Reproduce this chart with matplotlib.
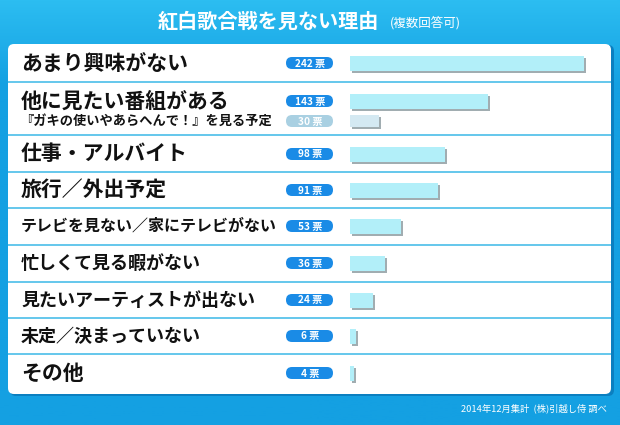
import numpy as np
import matplotlib.pyplot as plt
from matplotlib.patches import FancyBboxPatch
from matplotlib.colors import LinearSegmentedColormap
import matplotlib.patheffects as pe

plt.rcParams['font.family'] = ['Noto Sans CJK JP', 'DejaVu Sans']

# データ
labels = ['あまり興味がない', '他に見たい番組がある', '『ガキの使いやあらへんで！』を見る予定',
          '仕事・アルバイト', '旅行／外出予定', 'テレビを見ない／家にテレビがない',
          '忙しくて見る暇がない', '見たいアーティストが出ない', '未定／決まっていない', 'その他']
votes = [242, 143, 30, 98, 91, 53, 36, 24, 6, 4]
sub_row = [False, False, True, False, False, False, False, False, False, False]

# レイアウト (ピクセル)
row_y = [63, 101, 121, 154, 190, 226, 263, 300, 336, 373]
label_size = [15, 15, 9.5, 15, 15, 11.5, 13, 13, 13, 15]
separators = [82, 135, 172, 208, 245, 282, 318, 354]

W, H = 620, 425
fig = plt.figure(figsize=(W / 100, H / 100), dpi=100)

bg = fig.add_axes([0, 0, 1, 1])
bg.set_xlim(0, W)
bg.set_ylim(H, 0)
bg.axis('off')

# 背景のグラデーション
grad = np.linspace(0, 1, 200).reshape(-1, 1)
grad = np.clip(grad * 5, 0, 1)
cmap = LinearSegmentedColormap.from_list('bgblue', ['#2cbdf1', '#14a0e2'])
bg.imshow(grad, cmap=cmap, extent=[0, W, H, 0], aspect='auto', zorder=0)

# 白いパネル
shadow = FancyBboxPatch((10, 45), 604, 351, boxstyle='round,pad=0,rounding_size=6',
                        fc='#0b7fc0', ec='none', zorder=1)
bg.add_patch(shadow)
panel = FancyBboxPatch((8, 44), 603, 350, boxstyle='round,pad=0,rounding_size=6',
                       fc='white', ec='none', zorder=2)
bg.add_patch(panel)
bg.hlines(separators, 8, 611, color='#58c3ea', lw=1.3, zorder=3)

# タイトル
bg.text(268, 21, '紅白歌合戦を見ない理由', color='white', fontsize=14.5,
        fontweight='bold', ha='center', va='center', zorder=3)
bg.text(425, 23, '(複数回答可)', color='white', fontsize=9,
        ha='center', va='center', zorder=3)
bg.text(607, 408, '2014年12月集計  (株)引越し侍 調べ', color='white', fontsize=6.7,
        ha='right', va='center', zorder=3)

# 項目名と票数ラベル
for lab, v, y, fs, sub in zip(labels, votes, row_y, label_size, sub_row):
    bg.text(20 if sub else 21, y, lab, fontsize=fs, fontweight='bold', color='#111111',
            ha='left', va='center', zorder=4)
    pill_c = '#a9d0e2' if sub else '#1a8be6'
    pill = FancyBboxPatch((286, y - 6), 47, 12, boxstyle='round,pad=0,rounding_size=6',
                          fc=pill_c, ec='none', zorder=4)
    bg.add_patch(pill)
    bg.text(310, y + 0.5, f'{v} 票', color='white', fontsize=7.3, fontweight='bold',
            ha='center', va='center', zorder=5)

# 棒グラフ
px_per_vote = 0.967
bx = fig.add_axes([350 / W, 0, 260 / W, 1])
bx.set_xlim(0, 260 / px_per_vote)
bx.set_ylim(H, 0)
bx.axis('off')
bx.patch.set_alpha(0)
colors = ['#d4e9f2' if s else '#b2eff9' for s in sub_row]
heights = [12 if s else 15 for s in sub_row]
bars = bx.barh(row_y, votes, height=heights, color=colors, zorder=3)
for b in bars:
    b.set_path_effects([pe.SimplePatchShadow(offset=(1.5, -1.5), shadow_rgbFace='#7a8a90',
                                             alpha=0.7), pe.Normal()])

fig.savefig('out.png', dpi=100)
